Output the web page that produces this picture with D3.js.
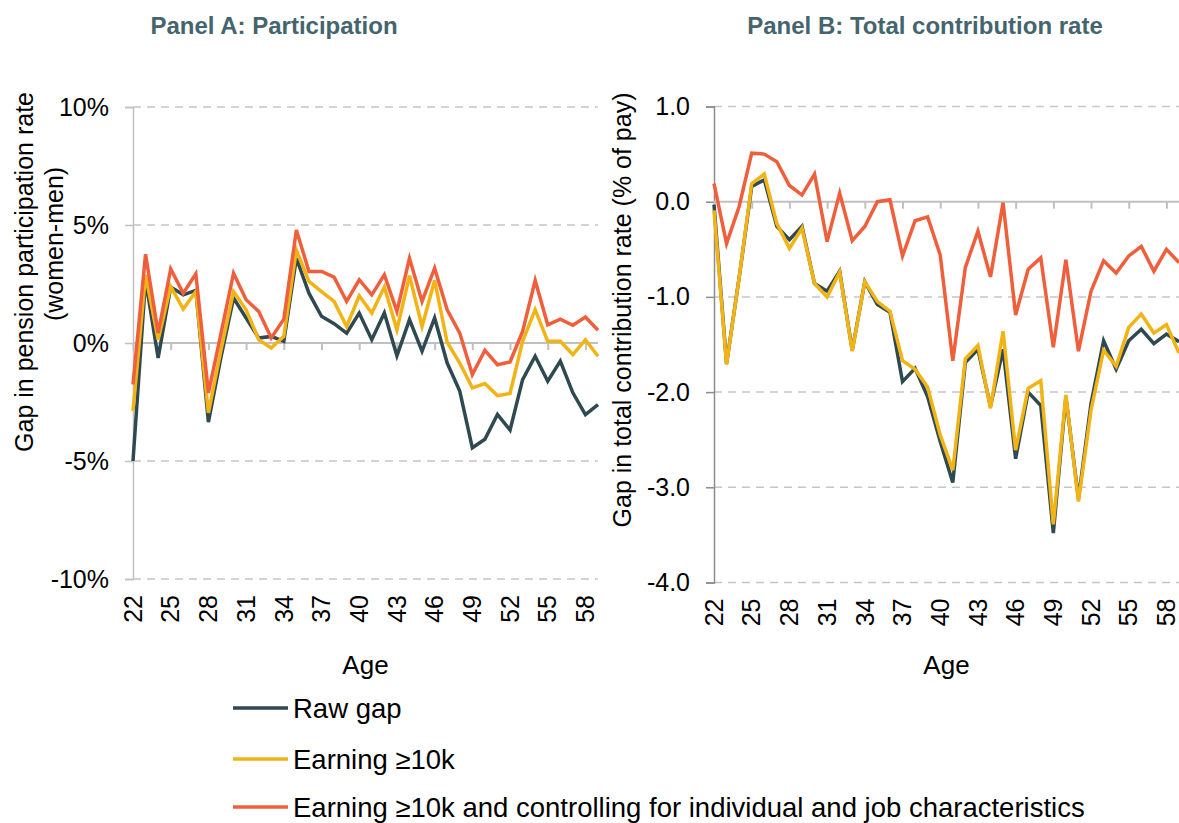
<!DOCTYPE html>
<html>
<head>
<meta charset="utf-8">
<script src="https://cdn.jsdelivr.net/npm/d3@7"></script>
<style>
  body { margin: 0; background: #fff; }
  text { font-family: "Liberation Sans", Arial, sans-serif; fill: #000; }
</style>
</head>
<body>
<div id="chart"></div>
<script>
// ages on the category axis
var ages = [22,23,24,25,26,27,28,29,30,31,32,33,34,35,36,37,38,39,40,41,42,43,44,45,46,47,48,49,50,51,52,53,54,55,56,57,58,59]
var ageTicks = [22,25,28,31,34,37,40,43,46,49,52,55,58]

// Panel A: gap in participation rate (% points, women-men)
var partRaw  = [-5.0,2.68,-0.63,2.37,2.04,2.23,-3.35,-0.6,1.90,1.06,0.21,0.28,0.07,3.59,2.11,1.13,0.82,0.42,1.27,0.14,1.27,-0.54,0.99,-0.35,1.06,-0.85,-2.04,-4.44,-4.08,-3.03,-3.69,-1.55,-0.56,-1.62,-0.77,-2.11,-3.03,-2.61]
var partEarn = [-2.89,2.89,0.14,2.39,1.44,2.18,-2.96,-0.3,2.18,1.41,0.14,-0.21,0.28,3.94,2.61,2.18,1.76,0.70,2.0,1.27,2.37,0.56,2.85,0.70,2.65,0.03,-0.85,-1.90,-1.72,-2.23,-2.14,0.07,1.41,0.07,0.07,-0.49,0.14,-0.56]
var partCtrl = [-1.76,3.76,0.42,3.14,2.11,2.93,-2.11,0.4,2.96,1.83,1.34,0.21,1.01,4.79,3.03,3.03,2.79,1.76,2.68,2.04,2.89,1.34,3.59,1.76,3.17,1.41,0.42,-1.34,-0.31,-0.92,-0.80,0.49,2.65,0.77,1.01,0.75,1.10,0.54]
var partTicks = [-10,-5,0,5,10]

// Panel B: gap in total contribution rate (% of pay)
var contRaw  = [-0.03,-1.70,-0.8,0.16,0.23,-0.26,-0.40,-0.26,-0.86,-0.94,-0.73,-1.56,-0.84,-1.08,-1.16,-1.89,-1.75,-2.05,-2.52,-2.95,-1.69,-1.55,-2.15,-1.55,-2.70,-2.0,-2.14,-3.48,-2.05,-3.12,-2.12,-1.46,-1.76,-1.46,-1.34,-1.49,-1.39,-1.47]
var contEarn = [-0.09,-1.71,-0.8,0.19,0.29,-0.23,-0.49,-0.28,-0.86,-1.0,-0.74,-1.57,-0.84,-1.05,-1.15,-1.67,-1.76,-1.95,-2.45,-2.82,-1.65,-1.51,-2.17,-1.36,-2.61,-1.96,-1.88,-3.39,-2.03,-3.15,-2.19,-1.56,-1.73,-1.32,-1.18,-1.38,-1.29,-1.59]
var contCtrl = [0.19,-0.44,-0.05,0.51,0.50,0.42,0.17,0.07,0.29,-0.42,0.09,-0.41,-0.26,0.0,0.02,-0.57,-0.20,-0.16,-0.56,-1.67,-0.69,-0.31,-0.79,-0.01,-1.19,-0.71,-0.59,-1.53,-0.61,-1.57,-0.94,-0.62,-0.75,-0.57,-0.47,-0.73,-0.50,-0.64]
var contTicks = [-4,-3,-2,-1,0,1]

var seriesNames = ["Raw gap", "Earning \u226510k", "Earning \u226510k and controlling for individual and job characteristics"]
var colors = ["#2e4a50", "#f2b315", "#ef5f3c"]

var svg = d3.select("#chart")
  .append("svg")
    .attr("width", 1179)
    .attr("height", 823)

function drawPanel(o) {
  var g = svg.append("g")
  var x = d3.scaleLinear().domain([22, 59]).range([o.left, o.right])
  var y = d3.scaleLinear().domain(o.domain).range([o.bottom, o.top])

  // dashed gridlines (zero is the solid axis)
  g.selectAll(".grid")
    .data(o.ticks.filter(function(d){ return d != 0 }))
    .enter().append("line")
      .attr("x1", o.left).attr("x2", o.right)
      .attr("y1", function(d){ return y(d) }).attr("y2", function(d){ return y(d) })
      .attr("stroke", "#c6c6c6").attr("stroke-width", 1.5)
      .attr("stroke-dasharray", "8,6")

  // y axis
  var ya = g.append("g")
    .attr("transform", "translate(" + o.left + ",0)")
    .call(d3.axisLeft(y).tickValues(o.ticks).tickSize(8).tickPadding(16).tickFormat(o.fmt))
  ya.select(".domain").attr("stroke", o.axisColor).attr("stroke-width", 1.5)
  ya.selectAll(".tick line").attr("stroke", o.axisColor).attr("stroke-width", 1.5)
  ya.selectAll("text").style("font-size", "25px").attr("fill", "#000")

  // horizontal axis through zero, ticks only
  var xa = g.append("g")
    .attr("transform", "translate(0," + y(0) + ")")
    .call(d3.axisBottom(x).tickValues(ageTicks).tickSize(7).tickFormat(""))
  xa.select(".domain").attr("stroke", "#c0c0c0").attr("stroke-width", 2)
    .attr("d", "M" + o.left + ",0H" + o.right)
  xa.selectAll(".tick line").attr("stroke", "#c0c0c0").attr("stroke-width", 2)

  // category labels sit low, under the plot
  g.selectAll(".age")
    .data(ageTicks)
    .enter().append("text")
      .attr("transform", function(d){ return "translate(" + x(d) + "," + (o.bottom + 16) + ") rotate(-90)" })
      .attr("text-anchor", "end")
      .attr("dy", "0.35em")
      .style("font-size", "25px")
      .text(function(d){ return d })

  // lines
  var line = d3.line()
    .x(function(d, i){ return x(ages[i]) })
    .y(function(d){ return y(d) })
  o.series.forEach(function(s, i) {
    g.append("path")
      .attr("d", line(s))
      .attr("fill", "none")
      .attr("stroke", colors[i])
      .attr("stroke-width", 3.5)
  })

  // title
  g.append("text")
    .attr("x", o.titleX).attr("y", 34)
    .attr("text-anchor", "middle")
    .style("font-size", "24px").style("font-weight", "bold")
    .style("fill", "#44656e")
    .text(o.title)

  // y title
  o.yTitle.forEach(function(t) {
    g.append("text")
      .attr("transform", "translate(" + t.x + "," + t.y + ") rotate(-90)")
      .attr("text-anchor", "middle")
      .attr("dy", "0.35em")
      .style("font-size", "25px")
      .text(t.text)
  })

  g.append("text")
    .attr("x", (o.left + o.right) / 2).attr("y", 674)
    .attr("text-anchor", "middle")
    .style("font-size", "26px")
    .text("Age")
}

drawPanel({
  left: 133, right: 598, top: 107, bottom: 579,
  domain: [-10, 10], ticks: partTicks,
  fmt: function(d){ return d + "%" },
  axisColor: "#c0c0c0",
  series: [partRaw, partEarn, partCtrl],
  title: "Panel A: Participation", titleX: 274,
  yTitle: [
    {text: "Gap in pension participation rate", x: 24, y: 272},
    {text: "(women-men)", x: 54, y: 244}
  ]
})

drawPanel({
  left: 714, right: 1179, top: 106.5, bottom: 582.5,
  domain: [-4, 1], ticks: contTicks,
  fmt: function(d){ return d.toFixed(1) },
  axisColor: "#8c8c8c",
  series: [contRaw, contEarn, contCtrl],
  title: "Panel B: Total contribution rate", titleX: 925,
  yTitle: [
    {text: "Gap in total contribution rate (% of pay)", x: 622, y: 310}
  ]
})

// legend
var legY = [708, 759, 807]
var leg = svg.append("g")
seriesNames.forEach(function(n, i) {
  leg.append("line")
    .attr("x1", 233).attr("x2", 288)
    .attr("y1", legY[i]).attr("y2", legY[i])
    .attr("stroke", colors[i]).attr("stroke-width", 3.5)
  leg.append("text")
    .attr("x", 293).attr("y", legY[i]).attr("dy", "0.36em")
    .style("font-size", "27.5px")
    .text(n)
})
</script>
</body>
</html>
